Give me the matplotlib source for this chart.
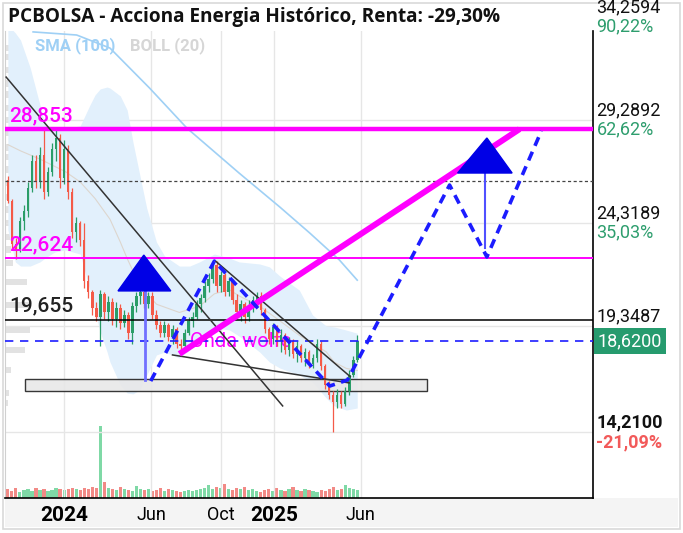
import numpy as np
import pandas as pd
import matplotlib
matplotlib.use("Agg")
import matplotlib.pyplot as plt
import matplotlib.dates as mdates
from matplotlib.patches import Rectangle, Polygon

plt.rcParams['font.family'] = ['Roboto', 'DejaVu Sans']

# ---- weekly candles (start week 2023-09-25) ----
candle_start = "2023-09-25"
opens = [26.4, 25.4, 23.3, 23.0, 24.4, 24.9, 26.0, 27.3, 26.3, 27.6,
         25.8, 26.8, 27.9, 28.4, 26.5, 27.9, 25.8, 23.9, 24.3, 23.5,
         21.5, 21.0, 20.2, 19.8, 20.9, 20.0, 20.5, 19.7, 20.2, 19.5,
         19.9, 19.0, 20.3, 20.8, 21.0, 20.4, 20.8, 19.9, 19.4, 19.0,
         19.4, 18.8, 19.2, 18.5, 18.4, 19.0, 19.6, 19.8, 20.4, 20.7,
         21.3, 21.6, 22.3, 21.3, 21.8, 21.0, 21.5, 20.6, 20.0, 20.4,
         19.8, 20.3, 20.6, 20.8, 20.1, 19.2, 18.7, 19.3, 18.6, 18.9,
         18.2, 18.6, 18.0, 18.4, 17.8, 18.1, 17.5, 17.8, 18.5, 17.4,
         16.5, 16.0, 15.7, 16.0, 15.6, 16.2, 17.0, 17.7]
highs = [26.6, 25.5, 23.6, 24.6, 25.2, 26.3, 27.6, 27.6, 28.0, 28.8,
         27.0, 28.2, 28.8, 28.6, 28.3, 28.1, 26.0, 24.6, 24.4, 24.3,
         21.8, 21.1, 20.5, 21.1, 21.0, 20.8, 20.7, 20.5, 20.4, 20.1,
         20.0, 20.5, 21.0, 21.2, 21.2, 21.0, 21.0, 20.1, 19.6, 19.6,
         19.5, 19.4, 19.3, 18.7, 19.2, 19.8, 20.0, 20.6, 20.9, 21.5,
         21.9, 22.5, 22.5, 22.0, 21.9, 21.7, 21.6, 20.9, 20.6, 20.5,
         20.6, 20.8, 21.0, 21.0, 20.2, 19.3, 19.5, 19.4, 19.2, 19.0,
         18.8, 18.7, 18.6, 18.5, 18.3, 18.2, 18.0, 18.7, 18.6, 17.5,
         16.7, 16.2, 16.3, 16.2, 16.4, 17.2, 17.9, 18.9]
lows = [25.3, 23.0, 22.6, 22.9, 24.0, 24.6, 25.8, 26.0, 26.0, 25.5,
        25.6, 26.6, 27.3, 26.0, 26.2, 25.5, 23.6, 23.4, 23.2, 21.2,
        20.7, 19.9, 19.6, 18.4, 19.7, 19.6, 19.4, 19.3, 19.2, 19.3,
        18.7, 18.5, 20.0, 20.4, 20.2, 20.2, 19.7, 19.2, 18.8, 18.8,
        18.6, 18.5, 18.3, 18.2, 18.3, 18.9, 19.3, 19.7, 20.0, 20.5,
        21.0, 21.4, 21.0, 21.0, 20.8, 20.8, 20.4, 19.8, 19.6, 19.5,
        19.6, 20.0, 20.3, 19.9, 19.0, 18.5, 18.5, 18.4, 18.1, 18.0,
        17.9, 17.8, 17.6, 17.6, 17.4, 17.3, 17.3, 17.6, 17.2, 16.3,
        15.8, 14.21, 15.4, 15.4, 15.5, 16.0, 16.9, 17.6]
closes = [25.4, 23.3, 23.0, 24.4, 24.9, 26.0, 27.3, 26.3, 27.6, 25.8,
          26.8, 27.9, 28.4, 26.5, 27.9, 25.8, 23.9, 24.3, 23.5, 21.5,
          21.0, 20.2, 19.8, 20.9, 20.0, 20.5, 19.7, 20.2, 19.5, 19.9,
          19.0, 20.3, 20.8, 21.0, 20.4, 20.8, 19.9, 19.4, 19.0, 19.4,
          18.8, 19.2, 18.5, 18.4, 19.0, 19.6, 19.8, 20.4, 20.7, 21.3,
          21.6, 22.3, 21.3, 21.8, 21.0, 21.5, 20.6, 20.0, 20.4, 19.8,
          20.3, 20.6, 20.8, 20.1, 19.2, 18.7, 19.3, 18.6, 18.9, 18.2,
          18.6, 18.0, 18.4, 17.8, 18.1, 17.5, 17.8, 18.5, 17.4, 16.5,
          16.0, 15.7, 16.0, 15.6, 16.2, 17.0, 17.7, 18.62]
volumes = [9, 7, 10, 6, 8, 9, 7, 10, 8, 9,
           7, 8, 10, 9, 8, 9, 10, 9, 8, 10,
           9, 11, 10, 72, 16, 10, 9, 8, 11, 9,
           8, 7, 12, 9, 8, 9, 7, 8, 10, 7,
           9, 8, 7, 6, 7, 8, 7, 8, 9, 10,
           13, 9, 11, 10, 14, 9, 8, 10, 9, 11,
           8, 9, 7, 6, 8, 9, 7, 10, 8, 7,
           9, 11, 8, 7, 9, 8, 7, 6, 8, 7,
           9, 11, 8, 9, 13, 10, 9, 8]

# ---- Bollinger (20) band ----
band_dates = ["2023-09-25", "2023-10-08", "2023-10-17", "2023-11-03", "2023-11-20",
              "2023-11-29", "2023-12-16", "2024-01-03", "2024-01-29", "2024-02-15",
              "2024-02-24", "2024-03-04", "2024-03-16", "2024-03-21", "2024-04-08",
              "2024-04-20", "2024-04-30", "2024-05-12", "2024-05-24", "2024-06-10",
              "2024-06-24", "2024-07-20", "2024-08-07", "2024-08-24", "2024-09-19",
              "2024-10-15", "2024-11-01", "2024-12-07", "2024-12-24", "2025-01-11",
              "2025-02-14", "2025-03-09", "2025-04-02", "2025-04-16", "2025-05-07",
              "2025-05-26"]
band_upper = [33.87, 33.49, 33.15, 31.80, 30.01, 29.05, 28.85, 28.90, 29.00, 30.01,
              30.50, 30.79, 30.88, 30.83, 30.45, 29.77, 28.23, 26.63, 25.04, 23.40,
              22.73, 22.24, 22.24, 22.44, 22.82, 22.63, 22.44, 22.34, 22.20, 21.76,
              21.08, 19.88, 19.35, 19.30, 19.15, 19.00]
band_lower = [23.98, 22.44, 22.24, 22.24, 22.44, 22.63, 22.92, 23.02, 22.82, 21.08,
              20.02, 19.06, 18.09, 17.61, 16.50, 16.11, 16.07, 16.26, 16.98, 17.95,
              18.09, 17.80, 18.19, 18.77, 19.25, 19.16, 18.86, 18.09, 17.61, 17.32,
              16.98, 16.64, 15.87, 15.49, 15.29, 15.39]
mid_dates = ["2023-09-25", "2023-10-17", "2023-11-20", "2024-01-03", "2024-01-29",
             "2024-02-24", "2024-03-21", "2024-04-08", "2024-04-20", "2024-05-12",
             "2024-06-10", "2024-07-20", "2024-08-24", "2024-09-19", "2024-10-15",
             "2024-11-01", "2024-12-07", "2025-01-11", "2025-02-14", "2025-03-09",
             "2025-04-02", "2025-04-16", "2025-05-07", "2025-05-26"]
mid_band = [28.1, 27.8, 27.4, 26.8, 26.3, 25.5, 24.5, 23.4, 22.6, 21.3,
            20.4, 20.0, 20.3, 20.9, 21.1, 20.8, 20.3, 19.6, 18.9, 18.5,
            18.1, 17.6, 17.3, 17.2]

# ---- SMA (100) ----
sma_dates = ["2023-11-08", "2024-01-23", "2024-03-21", "2024-05-29", "2024-08-02",
             "2024-11-01", "2025-01-11", "2025-03-04", "2025-04-25", "2025-05-26"]
sma_100 = [33.54, 33.39, 32.76, 30.83, 28.90, 26.73, 25.09, 23.84, 22.53, 21.56]

# ---- volume profile on the left ----
vp_prices = [32.76, 32.33, 31.70, 31.07, 30.50, 29.87, 29.29, 28.66, 27.98, 27.50,
             26.88, 26.25, 25.57, 24.95, 24.32, 23.64, 23.02, 22.39, 21.47, 20.36,
             19.15, 18.19, 17.22, 16.11, 15.63]
vp_volume = [8, 11, 9, 11, 12, 10, 9, 10, 12, 12,
             10, 11, 8, 8, 8, 6, 6, 8, 22, 24,
             25, 20, 6, 4, 3]

# ---- drawings ----
hlines_levels = {"r1": 28.853, "r2": 22.624, "s1": 19.655, "dot": 26.35, "last": 18.62}
diag1_dates, diag1_prices = ["2023-09-22", "2025-01-16"], [31.36, 15.49]
diag2_dates, diag2_prices = ["2024-09-21", "2025-05-14"], [22.48, 16.90]
diag3_dates, diag3_prices = ["2024-07-08", "2025-05-12"], [17.95, 16.60]
wolfe_dates, wolfe_prices = ["2024-07-20", "2026-03-05"], [18.00, 28.85]
wave_dates = ["2024-05-31", "2024-09-19", "2025-04-08", "2025-05-09",
              "2025-11-03", "2026-01-07", "2026-04-12"]
wave_prices = [16.69, 22.48, 16.45, 16.74, 26.15, 22.68, 28.76]
box_dates, box_prices = ["2023-10-25", "2025-09-25"], [16.21, 16.80]
tri1_dates, tri1_prices = ["2024-04-04", "2024-05-19", "2024-07-05"], [21.04, 22.77, 21.04]
stem1_dates, stem1_prices = ["2024-05-21", "2024-05-21"], [21.04, 16.74]
tri2_dates, tri2_prices = ["2025-11-17", "2026-01-07", "2026-02-20"], [26.73, 28.42, 26.73]
stem2_dates, stem2_prices = ["2026-01-03", "2026-01-03"], [26.73, 23.11]

price_ticks = [34.2594, 29.2892, 24.3189, 19.3487, 14.21]
price_tick_labels = ["34,2594", "29,2892", "24,3189", "19,3487", "14,2100"]
pct_labels = ["90,22%", "62,62%", "35,03%", "7,48%", "-21,09%"]
date_ticks = ["2024-01-01", "2024-06-01", "2024-10-01", "2025-01-01", "2025-06-01"]
date_tick_labels = ["2024", "Jun", "Oct", "2025", "Jun"]

MAG = '#ff00ff'
BLUE = '#1c1cff'
GREEN = '#2a9d68'
RED = '#f45a48'


def d(lst):
    return mdates.date2num(pd.to_datetime(lst))


fig = plt.figure(figsize=(6.83, 5.33), dpi=100)
W, H = 683, 533
ax = fig.add_axes([5 / W, 1 - 498 / H, 588 / W, 467 / H])
ax.set_xlim(d(["2023-09-20"])[0], d(["2026-07-11"])[0])
ax.set_ylim(11.046, 33.584)

# frame / backgrounds
fig.patches.append(Rectangle((5 / W, 1 - 527 / H), 673 / W, 29 / H, transform=fig.transFigure,
                             facecolor='#f4f4f4', edgecolor='none', zorder=-2))
fig.patches.append(Rectangle((3 / W, 1 - 529 / H), 677 / W, 526 / H, transform=fig.transFigure,
                             facecolor='none', edgecolor='#d9d9d9', lw=1.2, zorder=-1))

ax.spines['top'].set_visible(False)
ax.spines['left'].set_color('#d0d0d0')
ax.spines['right'].set_color('black')
ax.spines['bottom'].set_color('black')
ax.spines['right'].set_linewidth(1.2)
ax.spines['bottom'].set_linewidth(1.2)

# grid
for v in price_ticks:
    ax.axhline(v, color='#e6e6e6', lw=1, zorder=0.5)
for t in d(date_ticks):
    ax.axvline(t, color='#e6e6e6', lw=1, zorder=0.5)

# volume profile overlay
axvp = fig.add_axes(ax.get_position())
axvp.set_facecolor('none')
axvp.axis('off')
axvp.barh(vp_prices, vp_volume, height=0.33, color='#e2e2e2', zorder=1)
axvp.set_xlim(0, max(vp_volume) / 0.043)
axvp.set_ylim(ax.get_ylim())
axvp.set_zorder(-0.5)
ax.set_facecolor('none')

# volume bars overlay
axv = fig.add_axes(ax.get_position())
axv.set_facecolor('none')
axv.axis('off')
cdates = mdates.date2num(pd.date_range(candle_start, periods=len(closes), freq='7D'))
up = np.array(closes) >= np.array(opens)
axv.bar(cdates, volumes, width=5.5, color=np.where(up, '#7fd9a6', '#f28a86'), zorder=1)
axv.set_xlim(ax.get_xlim())
axv.set_ylim(0, max(volumes) / 0.154)
axv.set_zorder(-0.4)

# bollinger band + sma
ax.fill_between(d(band_dates), band_lower, band_upper, color='#e2f0fc', lw=0, zorder=1)
ax.plot(d(mid_dates), mid_band, color='#ddd6ce', lw=0.8, zorder=1.5)
ax.plot(d(sma_dates), sma_100, color='#9fd0f5', lw=1.2, zorder=1.5)

# rectangle zone
bd = d(box_dates)
ax.add_patch(Rectangle((bd[0], box_prices[0]), bd[1] - bd[0], box_prices[1] - box_prices[0],
                       facecolor='#e8e8e8', edgecolor='#222222', lw=1.0, alpha=0.9, zorder=2.5))

# Onda wolfe text (behind candles)
ax.text(d(["2024-08-07"])[0], 18.58, "Onda wolfe", color=MAG, fontsize=14.5,
        va='center', ha='left', zorder=2.6)

# candles
ccol = np.where(up, GREEN, RED)
ax.vlines(cdates, lows, highs, color=ccol, lw=0.9, zorder=3)
body_lo = np.minimum(opens, closes)
body_h = np.maximum(np.abs(np.array(closes) - np.array(opens)), 0.06)
ax.bar(cdates, body_h, bottom=body_lo, width=4.6, color=ccol, zorder=3)

# horizontal levels
ax.axhline(hlines_levels["r1"], color=MAG, lw=3.2, zorder=4)
ax.axhline(hlines_levels["r2"], color=MAG, lw=1.4, zorder=4)
ax.axhline(hlines_levels["s1"], color='black', lw=1.1, zorder=4)
ax.axhline(hlines_levels["dot"], color='#444444', lw=0.9, ls=(0, (2.5, 2)), zorder=4)
ax.axhline(hlines_levels["last"], color=BLUE, lw=1.2, ls=(0, (5, 4)), zorder=4)

lvl_x = d(["2023-09-28"])[0]
ax.text(lvl_x, 28.853 + 0.2, "28,853", color=MAG, fontsize=15, fontweight='medium',
        va='bottom', zorder=6)
ax.text(lvl_x, 22.624 + 0.2, "22,624", color=MAG, fontsize=15, fontweight='medium',
        va='bottom', zorder=6)
ax.text(lvl_x, 19.655 + 0.2, "19,655", color='#222222', fontsize=15, fontweight='medium',
        va='bottom', zorder=6)

# trend lines
ax.plot(d(diag1_dates), diag1_prices, color='#333333', lw=1.1, zorder=4)
ax.plot(d(diag2_dates), diag2_prices, color='#333333', lw=1.1, zorder=4)
ax.plot(d(diag3_dates), diag3_prices, color='#333333', lw=1.1, zorder=4)
ax.plot(d(wolfe_dates), wolfe_prices, color=MAG, lw=4.3, solid_capstyle='butt', zorder=4.5)

# wave projection
ax.plot(d(wave_dates), wave_prices, color=BLUE, lw=2.6, ls=(0, (2.6, 1.8)), zorder=5)

# triangles and stems
ax.plot(d(stem1_dates), stem1_prices, color='#7070ff', lw=2, zorder=5)
ax.add_patch(Polygon(np.column_stack([d(tri1_dates), tri1_prices]), closed=True,
                     facecolor='#0000e6', edgecolor='#0000e6', zorder=5.5))
ax.plot(d(stem2_dates), stem2_prices, color='#5050ff', lw=1.5, zorder=5)
ax.add_patch(Polygon(np.column_stack([d(tri2_dates), tri2_prices]), closed=True,
                     facecolor='#0000e6', edgecolor='#0000e6', zorder=5.5))

# right price scale
for v, lab, pct in zip(price_ticks, price_tick_labels, pct_labels):
    bold = 'bold' if v == min(price_ticks) else 'normal'
    ax.annotate(lab, xy=(1, v), xycoords=('axes fraction', 'data'), xytext=(2.5, 0.5),
                textcoords='offset points', ha='left', va='bottom', fontsize=13,
                color='#111111', fontweight=bold, annotation_clip=False)
    ax.annotate(pct, xy=(1, v), xycoords=('axes fraction', 'data'), xytext=(2.5, -0.5),
                textcoords='offset points', ha='left', va='top', fontsize=13,
                color='#2e9e6e' if not pct.startswith('-') else '#f25a5a',
                fontweight=bold, annotation_clip=False)
ax.annotate("18,6200", xy=(1, hlines_levels["last"]), xycoords=('axes fraction', 'data'),
            xytext=(3.5, 0), textcoords='offset points', ha='left', va='center', fontsize=13,
            color='white', annotation_clip=False,
            bbox=dict(boxstyle='square,pad=0.2', fc='#269b6e', ec='none'))
ax.set_yticks([])

# date axis
ax.set_xticks(d(date_ticks))
ax.set_xticklabels(date_tick_labels)
ax.tick_params(axis='x', length=0, pad=6, labelsize=13)
for lbl in ax.get_xticklabels():
    if lbl.get_text().isdigit():
        lbl.set_fontweight('bold')
        lbl.set_fontsize(15)

# title and legend
fig.text(8 / W, 1 - 17 / H, "PCBOLSA - Acciona Energia Histórico, Renta: -29,30%",
         fontsize=13.7, fontweight='bold', family=['Open Sans', 'DejaVu Sans'],
         ha='left', va='center', color='#111111')
fig.text(35 / W, 1 - 46 / H, "SMA (100)", fontsize=12, fontweight='bold', color='#9fd0f5',
         ha='left', va='center')
fig.text(130 / W, 1 - 46 / H, "BOLL (20)", fontsize=12, fontweight='bold', color='#d6d6d6',
         ha='left', va='center')

fig.savefig("out.png", dpi=100)
